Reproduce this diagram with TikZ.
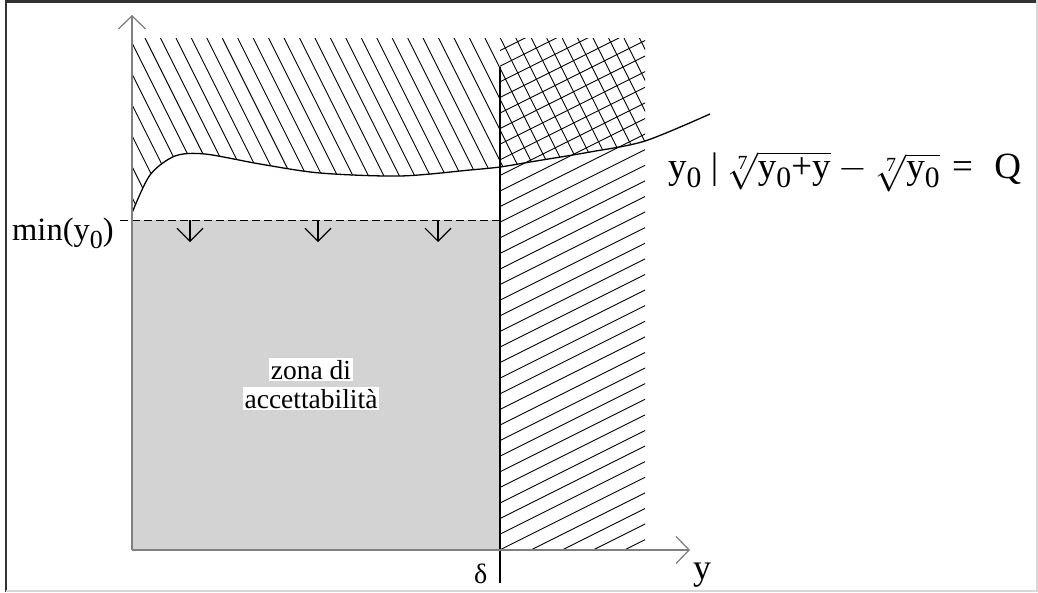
\documentclass[tikz,border=0pt]{standalone}
\usepackage{fix-cm}
\usepackage{graphicx}
\usepackage{fontspec}
\setmainfont{Liberation Serif}
\usetikzlibrary{arrows.meta,positioning}
\definecolor{zonegray}{RGB}{211,211,211}
\definecolor{framedark}{RGB}{50,50,50}
\definecolor{framelight}{RGB}{215,215,215}
\newcommand{\zsub}{\raisebox{-0.26em}{\scalebox{0.8}{0}}}
\newcommand{\rootidx}{\mbox{\fontsize{20}{20}\selectfont 7}}

\begin{document}
\begin{tikzpicture}[
  x=1pt,y=-1pt,
  axis/.style={line width=1.3pt,draw=gray,-{Straight Barb[length=13pt,width=27pt]}},
  hatch/.style={line width=0.9pt},
  bound/.style={line width=1.3pt},
  drop/.style={line width=1.1pt,-{Straight Barb[length=13pt,width=26pt]}},
  lbl/.style={inner sep=0pt,anchor=base west},
  zonelbl/.style={fill=white,inner xsep=2pt,inner ysep=2pt,anchor=base,font=\fontsize{27.5}{30}\selectfont}
]
\useasboundingbox (0,0) rectangle (1038,592);
\draw[line width=2.5pt,framedark] (5,1.25) -- (1038,1.25);
\draw[line width=2pt,framedark] (6,0) -- (6,592);
\draw[line width=2pt,framelight] (6,591) -- (1038,591);
\draw[line width=2pt,framelight] (1037,0) -- (1037,591);

\fill[zonegray] (132,220) rectangle (500,550);

\begin{scope}
\clip (132,38) rectangle (645,550);
\clip (132,38) -- (132,213) -- plot[smooth] coordinates {(132,213) (150,175) (175,156) (205,154) (260,164) (320,173) (400,176) (470,170) (500,167) (530,162) (590,152) (645,141) (710,114)} -- (710,38) -- cycle;
\foreach \k in {-6,...,32} \draw[hatch] (145+15.45*\k,38) -- ++(100,200);
\end{scope}
\begin{scope}
\clip (500,38) rectangle (645,550);
\foreach \k in {-16,...,24} \draw[hatch] (500,269+15.6*\k) -- ++(150,-75);
\end{scope}

\draw[bound] (500,67) -- (500,583);
\draw[bound] plot[smooth] coordinates {(132,213) (150,175) (175,156) (205,154) (260,164) (320,173) (400,176) (470,170) (500,167) (530,162) (590,152) (645,141) (710,114)};
\draw[line width=1pt,dash pattern=on 8pt off 4pt] (120,220) -- (500,220);
\foreach \x in {190,318,438} \draw[drop] (\x,220) -- (\x,242);

\coordinate (O) at (132,550);
\coordinate (ytop) at (132,15);
\coordinate (xend) at (690,550);
\draw[axis] (O) -- (ytop);
\draw[axis] (O) -- (xend);

\node[lbl] (minlbl) at (12,240) {\fontsize{32.5}{36}\selectfont min(y\zsub)};
\node[lbl] (delta) at (474,583) {\fontsize{28}{32}\selectfont δ};
\node[lbl] (ylbl) at (693,579) {\fontsize{36}{40}\selectfont y};
\node[lbl] (formula) at (668,178) {\fontsize{37}{42}\selectfont y\zsub{} | $\sqrt[\rootidx]{\mbox{y\zsub+y}} - \sqrt[\rootidx]{\mbox{y\zsub}}$\,\,=\,\, Q};
\node[zonelbl] (zona) at (311,379) {zona di};
\node[zonelbl] (acc) at (311,408) {accettabilità};
\end{tikzpicture}
\end{document}
